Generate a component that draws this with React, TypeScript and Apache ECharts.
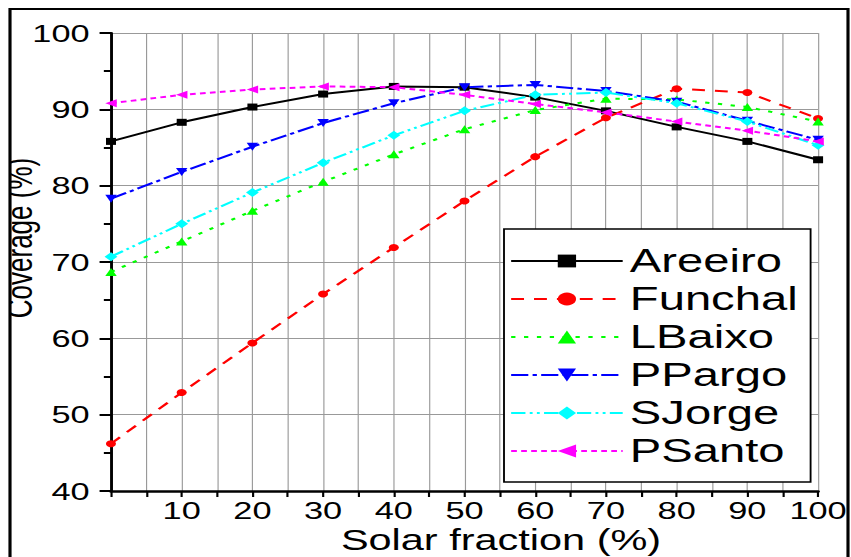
import { useEffect, useRef } from "react";
import * as echarts from "echarts";

// ---- data ----
const solarFraction = [0, 10, 20, 30, 40, 50, 60, 70, 80, 90, 100];
const areeiro = [85.8, 88.3, 90.3, 92.0, 93.0, 92.9, 91.6, 89.8, 87.7, 85.8, 83.4];
const funchal = [46.2, 52.9, 59.4, 65.8, 71.9, 78.0, 83.8, 88.9, 92.7, 92.2, 88.8];
const lBaixo = [68.7, 72.7, 76.7, 80.5, 84.1, 87.4, 89.9, 91.4, 91.3, 90.3, 88.4];
const pPargo = [78.3, 81.8, 85.1, 88.2, 90.8, 92.9, 93.2, 92.4, 91.0, 88.5, 86.0];
const sJorge = [70.7, 75.0, 79.1, 83.0, 86.6, 89.8, 91.9, 92.2, 90.8, 88.4, 85.3];
const pSanto = [90.8, 91.9, 92.6, 93.0, 92.9, 91.9, 90.7, 89.6, 88.4, 87.2, 85.8];
const seriesNames = ["Areeiro", "Funchal", "LBaixo", "PPargo", "SJorge", "PSanto"];
const xTickLabels = ["10", "20", "30", "40", "50", "60", "70", "80", "90", "100"];
const xTitle = "Solar fraction (%)";
const yTitle = "Coverage (%)";

// ---- layout (the reference is horizontally stretched) ----
const S = 1.43;
const W = 851 / S;
const H = 557;
const FONT = "'Liberation Sans', Arial, Helvetica, sans-serif";

export default function App() {
  const ref = useRef<HTMLDivElement>(null);

  useEffect(() => {
    const chart = echarts.init(ref.current!, null, { renderer: "svg", width: W, height: H });

    const mk = (
      name: string,
      values: number[],
      color: string,
      symbol: string,
      symbolSize: number | number[],
      type: any
    ) => ({
      name,
      type: "line",
      data: solarFraction.map((x, i) => [x, values[i]]),
      symbol,
      symbolSize,
      showSymbol: true,
      itemStyle: { color },
      lineStyle: { color, width: 2, type },
      emphasis: { disabled: true },
      silent: true,
    });

    const series = [
      mk(seriesNames[0], areeiro, "#000000", "rect", [7, 7], "solid"),
      mk(seriesNames[1], funchal, "#ff0000", "circle", 7, [9, 7]),
      mk(seriesNames[2], lBaixo, "#00ff00", "triangle", 8, [3, 6]),
      mk(seriesNames[3], pPargo, "#0000ff", "path://M0,0 L10,0 L5,10 Z", 8, [12, 3, 3, 3]),
      mk(seriesNames[4], sJorge, "#00ffff", "diamond", 9, [10, 3, 2, 3, 2, 3]),
      mk(seriesNames[5], pSanto, "#ff00ff", "path://M0,5 L10,0 L10,10 Z", 8, [4, 3]),
    ];

    chart.setOption({
      animation: false,
      backgroundColor: "#ffffff",
      textStyle: { fontFamily: FONT },
      grid: { left: 111 / S, right: 27 / S, top: 33, bottom: 66, containLabel: false },
      xAxis: {
        type: "value",
        min: 0,
        max: 100,
        interval: 5,
        axisLine: { show: true, onZero: false, lineStyle: { color: "#000", width: 2.5 } },
        axisTick: { show: true, length: 6, lineStyle: { color: "#000", width: 1.5 } },
        axisLabel: {
          formatter: (v: number) => (xTickLabels.includes(String(v)) ? String(v) : ""),
          fontSize: 24,
          lineHeight: 20,
          color: "#000",
          margin: 9,
          fontFamily: FONT,
        },
        splitLine: { show: true, lineStyle: { color: "#999999", width: 0.8 } },
      },
      yAxis: {
        type: "value",
        min: 40,
        max: 100,
        interval: 10,
        axisLine: { show: true, lineStyle: { color: "#000", width: 2 } },
        axisTick: { show: true, length: 8, lineStyle: { color: "#000", width: 2 } },
        minorTick: { show: true, splitNumber: 2, length: 5, lineStyle: { color: "#000", width: 2 } },
        axisLabel: { fontSize: 24, color: "#000", margin: 15, fontFamily: FONT },
        splitLine: { show: true, lineStyle: { color: "#999999", width: 1 } },
      },
      legend: {
        data: seriesNames,
        orient: "vertical",
        left: 504 / S,
        top: 229,
        padding: [13, 9, 12, 4],
        itemGap: 0,
        itemWidth: 78,
        itemHeight: 16,
        borderColor: "#000",
        borderWidth: 1.3,
        backgroundColor: "#ffffff",
        selectedMode: false,
        textStyle: { fontSize: 33, lineHeight: 38, color: "#000", fontFamily: FONT },
        z: 10,
      },
      graphic: [
        {
          type: "text",
          x: 19.5 / S,
          y: 238,
          rotation: Math.PI / 2,
          z: 100,
          style: {
            text: yTitle,
            fontSize: 26,
            fontFamily: FONT,
            fill: "#000",
            align: "center",
            verticalAlign: "middle",
          },
        },
        {
          type: "text",
          x: 501 / S,
          y: 540,
          z: 100,
          style: {
            text: xTitle,
            fontSize: 29,
            lineHeight: 29,
            fontFamily: FONT,
            fill: "#000",
            align: "center",
            verticalAlign: "middle",
          },
        },
        {
          type: "rect",
          z: 110,
          shape: { x: 0, y: 0, width: 9.5 / S, height: H },
          style: { fill: "#ffffff" },
        },
        {
          type: "rect",
          z: 120,
          shape: { x: 10 / S, y: 9, width: (848 - 10) / S, height: 700 },
          style: { fill: "none", stroke: "#000", lineWidth: 2.2 },
        },
      ],
      series,
    });

    return () => chart.dispose();
  }, []);

  return (
    <div
      style={{
        position: "fixed",
        left: 0,
        top: 0,
        width: 851,
        height: 557,
        overflow: "hidden",
        background: "#fff",
      }}
    >
      <div
        ref={ref}
        style={{ width: W, height: H, transform: `scaleX(${S})`, transformOrigin: "0 0" }}
      />
    </div>
  );
}
